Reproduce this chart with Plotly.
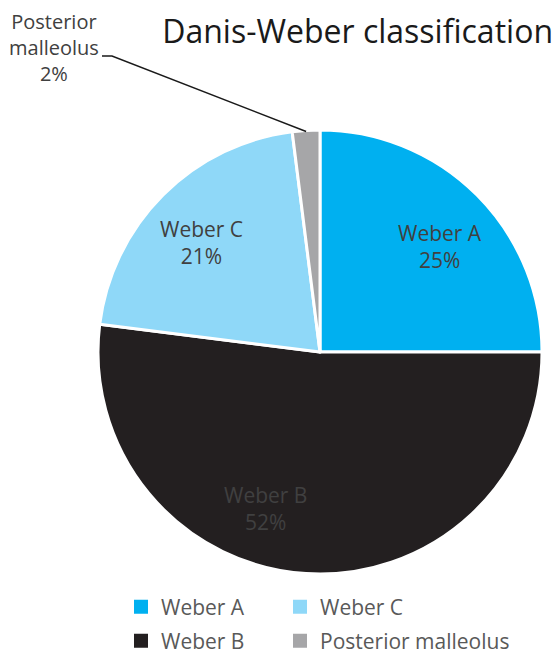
import math
import plotly.graph_objects as go

# ---- data ----
labels = ["Weber A", "Weber B", "Weber C", "Posterior malleolus"]
values = [25, 52, 21, 2]
colors = ["#00B0F0", "#231F20", "#8FD8F8", "#A6A6A8"]
legend_order = ["Weber A", "Weber C", "Weber B", "Posterior malleolus"]
title_text = "Danis-Weber classification"

# ---- layout (pixels) ----
W, H = 559, 656
FONT = "Open Sans"
cx, cy, r = 320, 352, 222                      # pie centre / radius
label_xy = {"Weber A": (440, 247), "Weber B": (265, 508),
            "Weber C": (201, 243)}              # inside-label anchors
legend_xy = [(121, 607), (280, 607), (121, 641), (280, 641)]

fig = go.Figure()
fig.add_trace(go.Pie(
    labels=labels, values=values, sort=False, direction="clockwise", rotation=0,
    marker=dict(colors=colors, line=dict(color="white", width=3)),
    textinfo="none", showlegend=False, hoverinfo="label+percent",
    domain=dict(x=[(cx - r) / W, (cx + r) / W], y=[(H - cy - r) / H, (H - cy + r) / H]),
))

total = sum(values)
for lab, val in zip(labels, values):
    if lab in label_xy:
        x, y = label_xy[lab]
        fig.add_annotation(x=x / W, y=1 - y / H, xref="paper", yref="paper",
                           text=f"{lab}<br>{round(100 * val / total)}%", showarrow=False,
                           xanchor="center", yanchor="middle", align="center",
                           font=dict(family=FONT, size=21, color="#404040"))

# leader line + outside label for the small slice (end point computed from data)
mid_frac = (sum(values[:3]) + values[3] / 2) / total
ang = 2 * math.pi * mid_frac
px_end = cx + (r - 1) * math.sin(ang)
py_end = cy - (r - 1) * math.cos(ang)
kx, ky = 112, 56
fig.add_shape(type="path",
              path=f"M {px_end/W} {1-py_end/H} L {kx/W} {1-ky/H} L {102/W} {1-ky/H}",
              xref="paper", yref="paper", line=dict(color="#1a1a1a", width=1.5))
fig.add_annotation(x=54 / W, y=1 - 48 / H, xref="paper", yref="paper",
                   text=f"Posterior<br>malleolus<br>{round(100 * values[3] / total)}%",
                   showarrow=False, xanchor="center", yanchor="middle", align="center",
                   font=dict(family=FONT, size=20, color="#404040"))

# legend entries, one legend per entry to reproduce the 2x2 grid
cmap = dict(zip(labels, colors))
legends = {}
for i, (name, (lx, ly)) in enumerate(zip(legend_order, legend_xy)):
    key = "legend" if i == 0 else f"legend{i+1}"
    fig.add_trace(go.Scatter(x=[None], y=[None], mode="markers", name=name,
                             marker=dict(symbol="square", size=14, color=cmap[name]),
                             legend=key, hoverinfo="skip"))
    legends[key] = dict(x=lx / W, y=1 - ly / H, xanchor="left", yanchor="middle",
                        orientation="h", font=dict(family=FONT, size=21, color="#595959"),
                        bgcolor="rgba(0,0,0,0)", itemclick=False, itemdoubleclick=False)

fig.update_layout(
    width=W, height=H,
    margin=dict(l=0, r=0, t=0, b=0, autoexpand=False),
    paper_bgcolor="white", plot_bgcolor="white",
    title=dict(text=title_text, x=553 / W, xanchor="right", y=1 - 32 / H, yanchor="middle",
               font=dict(family=FONT, size=32, color="#1a1a1a")),
    xaxis=dict(visible=False), yaxis=dict(visible=False),
    **legends,
)

fig.write_html("out.html")
